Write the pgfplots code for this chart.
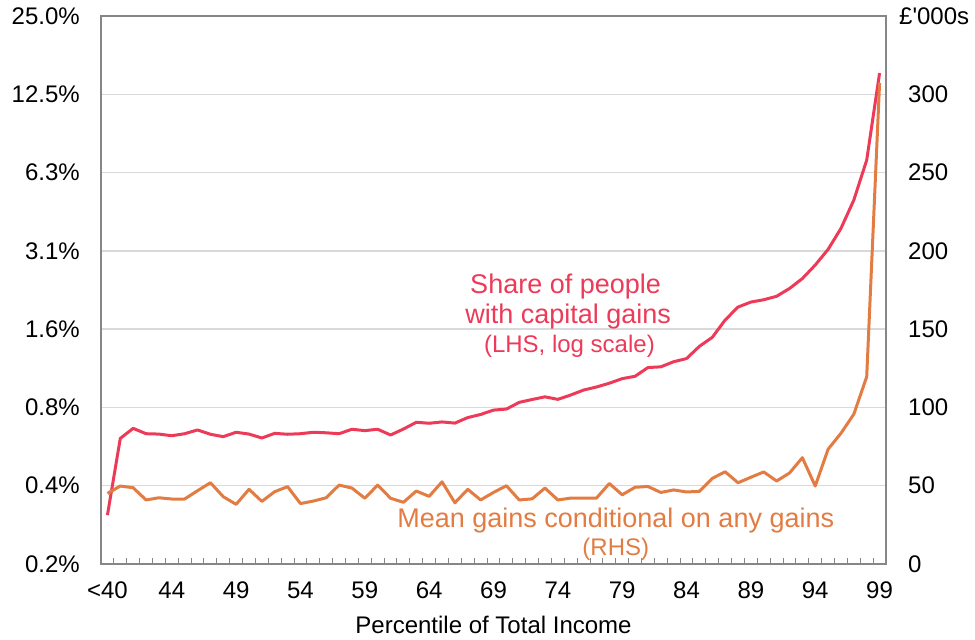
\documentclass[border=0pt]{standalone}
\usepackage{fontspec}
\setmainfont{Liberation Sans}
\usepackage{pgfplots}
\usepackage{pgfplotstable}
\pgfplotsset{compat=1.18}

\definecolor{sharered}{RGB}{236,58,88}
\definecolor{gainorange}{RGB}{226,124,66}
\definecolor{gridgray}{RGB}{217,217,217}
\definecolor{framegray}{RGB}{134,134,134}

% idx 0 = "<40", idx 1 = 40, ..., idx 60 = 99
\pgfplotstableread{
idx share gains
0 0.301 45.1
1 0.594 49.8
2 0.649 48.7
3 0.619 40.9
4 0.617 42.3
5 0.608 41.5
6 0.619 41.5
7 0.640 46.8
8 0.616 51.9
9 0.603 43.0
10 0.627 38.1
11 0.617 47.7
12 0.596 40.0
13 0.621 46.2
14 0.616 49.4
15 0.619 38.6
16 0.627 40.2
17 0.624 42.3
18 0.619 50.4
19 0.644 48.5
20 0.636 42.0
21 0.644 50.4
22 0.612 42.0
23 0.645 39.4
24 0.685 46.6
25 0.679 43.2
26 0.687 52.5
27 0.680 39.1
28 0.714 47.7
29 0.734 40.9
30 0.763 45.7
31 0.770 50.0
32 0.817 40.9
33 0.838 41.6
34 0.858 48.5
35 0.839 40.9
36 0.872 42.1
37 0.911 42.0
38 0.936 42.1
39 0.968 51.4
40 1.008 44.2
41 1.029 49.0
42 1.112 49.5
43 1.119 45.7
44 1.171 47.3
45 1.204 46.0
46 1.342 46.4
47 1.453 54.7
48 1.694 58.9
49 1.900 51.9
50 1.986 55.4
51 2.027 58.8
52 2.090 53.0
53 2.239 58.1
54 2.445 67.9
55 2.756 49.8
56 3.166 73.3
57 3.813 83.5
58 4.900 95.7
59 6.98 119.6
60 15.08 307.2
}\datatable

\begin{document}
\begin{tikzpicture}
\pgfplotsset{
  every axis/.append style={
    width=785pt, height=548pt, scale only axis,
    xmin=-0.5, xmax=60.5,
    font=\fontsize{24}{28}\selectfont,
    /pgf/number format/assume math mode=true,
    axis line style={framegray, line width=1.4pt},
    major tick length=0pt,
    ytick style={draw=none},
  },
}
\begin{axis}[
  name=ax,
  ymode=log, log basis y=2,
  ymin=0.1953125, ymax=25,
  ytick={0.1953125,0.390625,0.78125,1.5625,3.125,6.25,12.5,25},
  yticklabels={0.2\%,0.4\%,0.8\%,1.6\%,3.1\%,6.3\%,12.5\%,25.0\%},
  ymajorgrids, grid style={gridgray, line width=1.3pt},
  xtick={0,5,...,60},
  xticklabels={<40,44,49,54,59,64,69,74,79,84,89,94,99},
  minor xtick={-0.5,0.5,...,60.5},
  minor tick length=6pt,
  xtick align=inside, xtick pos=lower,
  xtick style={framegray, line width=1pt},
  yticklabel style={inner sep=0pt, xshift=-21pt},
  xticklabel style={inner sep=0pt, yshift=-18pt},
  xlabel={Percentile of Total Income},
  xlabel style={inner sep=0pt, yshift=-17pt},
]
\addplot[sharered, line width=3pt, line join=round] table[x=idx, y=share] {\datatable};
\end{axis}
\begin{axis}[
  axis y line*=right, axis x line=none,
  ymin=0, ymax=350,
  ytick={0,50,...,300},
  yticklabels={0,50,100,150,200,250,300},
  yticklabel style={inner sep=0pt, xshift=22pt, anchor=west},
  clip=false,
]
\addplot[gainorange, line width=3pt, line join=round] table[x=idx, y=gains] {\datatable};
\node[anchor=base, text=sharered, font=\fontsize{27}{30}\selectfont, inner sep=0pt] at (axis cs:35.6,172.9) {Share of people};
\node[anchor=base, text=sharered, font=\fontsize{27}{30}\selectfont, inner sep=0pt] at (axis cs:35.8,153.7) {with capital gains};
\node[anchor=base, text=sharered, font=\fontsize{24}{28}\selectfont, inner sep=0pt] at (axis cs:35.9,135.2) {(LHS, log scale)};
\node[anchor=base, text=gainorange, font=\fontsize{27}{30}\selectfont, inner sep=0pt] at (axis cs:39.5,23.6) {Mean gains conditional on any gains};
\node[anchor=base, text=gainorange, font=\fontsize{24}{28}\selectfont, inner sep=0pt] at (axis cs:39.5,5.7) {(RHS)};
\end{axis}
\node[anchor=west, inner sep=0pt, font=\fontsize{24}{28}\selectfont] at ([xshift=13pt]ax.north east) {\addfontfeatures{Ligatures=TeXOff}£'000s};
\path ([xshift=-101pt,yshift=-75pt]ax.south west) rectangle ([xshift=89pt,yshift=16pt]ax.north east);
\end{tikzpicture}
\end{document}
